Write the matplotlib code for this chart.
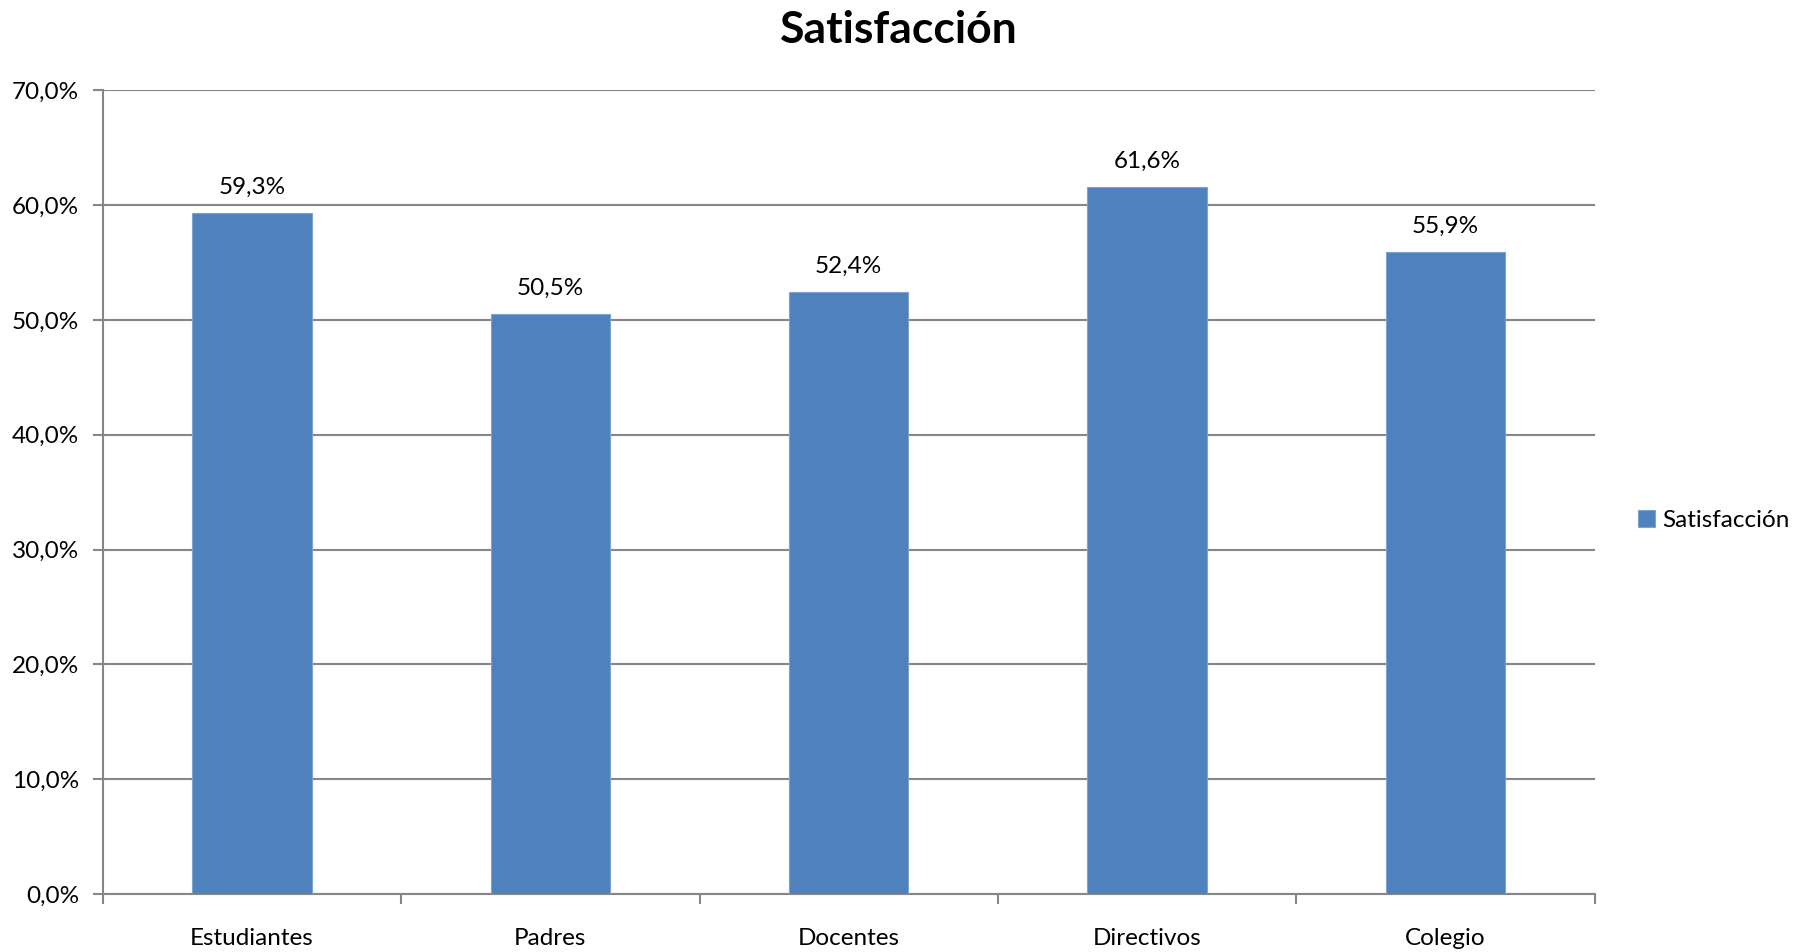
import matplotlib
matplotlib.use("Agg")
import matplotlib.pyplot as plt
from matplotlib.ticker import FuncFormatter, FixedLocator
import numpy as np

categories = ["Estudiantes", "Padres", "Docentes", "Directivos", "Colegio"]
satisfaccion = [59.3, 50.5, 52.4, 61.6, 55.9]
series_name = "Satisfacción"
title = "Satisfacción"

plt.rcParams['font.family'] = ['Lato', 'DejaVu Sans']

bar_color = "#4F81BD"
grid_color = "#868686"

fig = plt.figure(figsize=(18.02, 9.52), dpi=100)
ax = fig.add_axes([0.057, 0.061, 0.828, 0.844])

x = np.arange(len(categories))
bars = ax.bar(x, satisfaccion, width=0.4, color=bar_color, edgecolor="#7FA3D0",
              linewidth=0.8, label=series_name, zorder=3)

for xi, v in zip(x, satisfaccion):
    ax.annotate(("%.1f%%" % v).replace(".", ","), (xi, v), xytext=(0, 11),
                textcoords="offset points", ha="center", va="bottom", fontsize=17.5)

ax.set_xlim(-0.5, len(categories) - 0.5)
ax.set_ylim(0, 70)
ax.set_yticks(np.arange(0, 71, 10))
ax.yaxis.set_major_formatter(FuncFormatter(lambda v, p: ("%.1f%%" % v).replace(".", ",")))
ax.yaxis.grid(True, color=grid_color, linewidth=1.5, zorder=0)

# category boundaries get the tick marks, labels sit in the middle
ax.xaxis.set_major_locator(FixedLocator(np.arange(-0.5, len(categories), 1.0)))
ax.xaxis.set_minor_locator(FixedLocator(x))
ax.set_xticklabels([], minor=False)
ax.set_xticklabels(categories, minor=True)
ax.tick_params(axis="x", which="major", length=7, width=1.5, color=grid_color, direction="out")
ax.tick_params(axis="x", which="minor", length=0, pad=24.5, labelsize=17.5)
ax.tick_params(axis="y", length=7, width=1.5, color=grid_color, pad=10, labelsize=17.5)

for s in ["top", "right"]:
    ax.spines[s].set_visible(False)
for s in ["left", "bottom"]:
    ax.spines[s].set_color(grid_color)
    ax.spines[s].set_linewidth(1.5)

fig.suptitle(title, fontsize=32, fontweight="bold", x=0.499, y=0.99, va="top")

ax.legend(loc="center left", bbox_to_anchor=(0.897, 0.453), bbox_transform=fig.transFigure,
          frameon=False, fontsize=17.5, handlelength=0.7, handleheight=0.7, handletextpad=0.3)

fig.savefig("out.png", dpi=100)
